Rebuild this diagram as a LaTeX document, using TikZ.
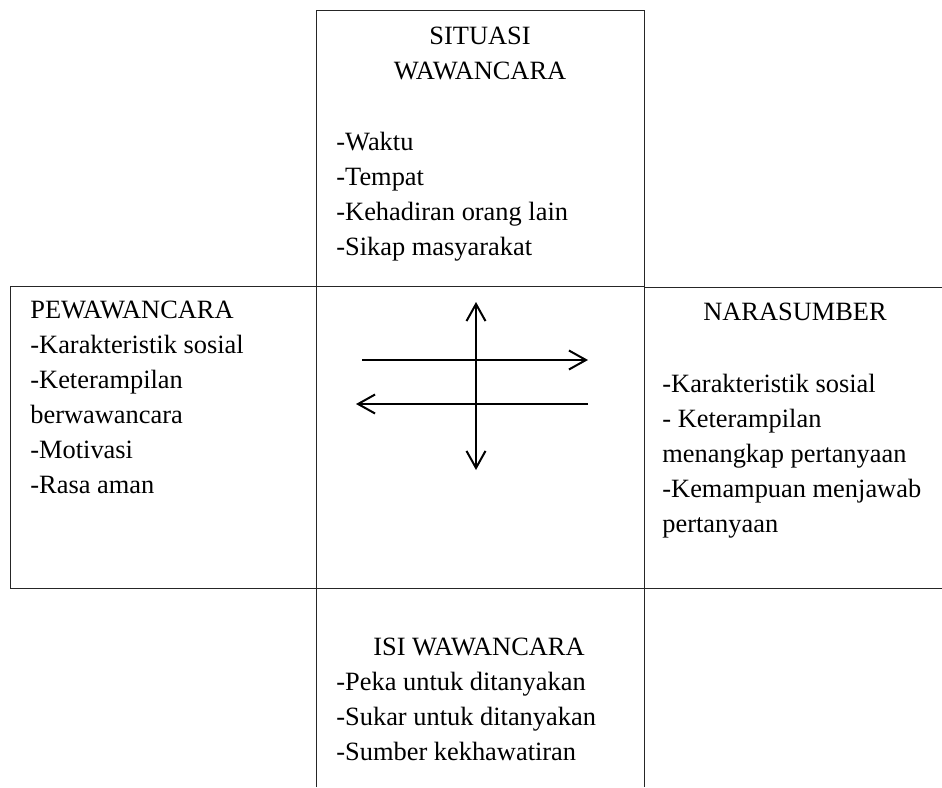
\documentclass[tikz,border=0pt]{standalone}
\usepackage{fontspec}
\setmainfont{Liberation Serif}
\usepackage{tikz}
\usetikzlibrary{
  % enables the open barb tips
  arrows.meta,%
  positioning%
}
\tikzset{>={Straight Barb[length=8.5pt, width=9.5pt]}}
\tikzset{font=\fontsize{13.2}{17.5}\selectfont}
\tikzset{kotak/.style={line width=0.5pt, draw=black!85}}
\tikzset{judul/.style={align=center, anchor=base, inner sep=0pt}}
\tikzset{daftar/.style={align=left, anchor=base west, inner sep=0pt}}
\tikzset{panah/.style={line width=1pt}}

\begin{document}
\begin{tikzpicture}[x=0.5pt, y=-0.5pt]
                \useasboundingbox (0, 0) rectangle (942, 787);%
                % the five boxes
                \draw [kotak] (316, 10) rectangle (644, 286);%
                \draw [kotak] (10, 286) rectangle (316, 588);%
                \draw [kotak] (316, 286) rectangle (644, 588);%
                \draw [kotak] (942, 287) -- (644, 287) -- (644, 588) -- (942, 588);%
                \draw [kotak] (316, 787) -- (316, 588) -- (644, 588) -- (644, 787);%
                % texts (anchored at the baseline of their last line)
                \node [judul] (situasi) at (480, 79) {SITUASI\\WAWANCARA};%
                \node [daftar] (situasiIsi) at (336, 255) {-Waktu\\-Tempat\\-Kehadiran orang lain\\-Sikap masyarakat};%
                \node [daftar] (pewawancara) at (30, 493) {PEWAWANCARA\\-Karakteristik sosial\\-Keterampilan\\berwawancara\\-Motivasi\\-Rasa aman};%
                \node [judul] (narasumber) at (795, 320) {NARASUMBER};%
                \node [daftar] (narasumberIsi) at (662, 532) {-Karakteristik sosial\\- Keterampilan\\menangkap pertanyaan\\-Kemampuan menjawab\\pertanyaan};%
                \node [judul] (isi) at (479, 655) {ISI WAWANCARA};%
                \node [daftar] (isiDaftar) at (336, 760) {-Peka untuk ditanyakan\\-Sukar untuk ditanyakan\\-Sumber kekhawatiran};%
                % arrows in the middle box
                \coordinate (atas) at (476, 302);%
                \coordinate (bawah) at (476, 470);%
                \coordinate (kiriA) at (362, 360);%
                \coordinate (kananA) at (588, 360);%
                \coordinate (kiriB) at (356, 404);%
                \coordinate (kananB) at (588, 404);%
                \draw [panah, <->] (atas) -- (bawah);%
                \draw [panah, ->] (kiriA) -- (kananA);%
                \draw [panah, ->] (kananB) -- (kiriB);%
              \end{tikzpicture}
\end{document}
